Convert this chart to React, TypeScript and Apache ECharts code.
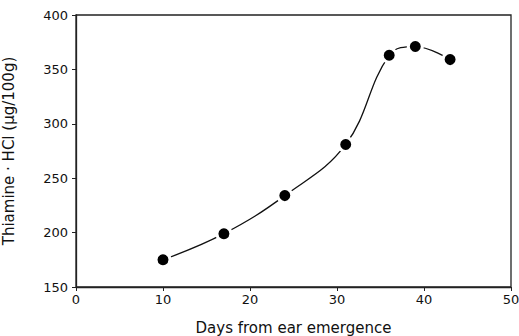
import React, { useEffect, useRef } from "react";
import * as echarts from "echarts";

const days = [10, 17, 24, 31, 36, 39, 43];
const thiamine = [175, 199, 234, 281, 363, 371, 359];
const xTicks = [0, 10, 20, 30, 40, 50];
const yTicks = [150, 200, 250, 300, 350, 400];

export default function App() {
  const ref = useRef<HTMLDivElement>(null);
  useEffect(() => {
    if (!ref.current) return;
    const chart = echarts.init(ref.current, undefined, { renderer: "svg" });
    const font = "DejaVu Sans";
    chart.setOption({
      animation: false,
      backgroundColor: "#fff",
      grid: {
        left: 76, right: 8, top: 15, bottom: 49,
        outerBoundsMode: "none", containLabel: false,
        show: true, borderColor: "#222", borderWidth: 1.3,
      },
      xAxis: {
        type: "value",
        min: xTicks[0],
        max: xTicks[xTicks.length - 1],
        interval: 10,
        name: "Days from ear emergence",
        nameLocation: "middle",
        nameGap: 33,
        nameTextStyle: { fontFamily: font, fontSize: 15, color: "#111" },
        axisLine: { lineStyle: { color: "#222", width: 1.3 } },
        axisTick: { show: true, length: 4, lineStyle: { color: "#222" } },
        axisLabel: { fontFamily: font, fontSize: 13, color: "#111", margin: 6 },
        splitLine: { show: false },
      },
      yAxis: {
        type: "value",
        min: yTicks[0],
        max: yTicks[yTicks.length - 1],
        interval: 50,
        name: "Thiamine · HCl (μg/100g)",
        nameLocation: "middle",
        nameGap: 60,
        nameTextStyle: { fontFamily: font, fontSize: 15, color: "#111" },
        axisLine: { show: true, lineStyle: { color: "#222", width: 1.3 } },
        axisTick: { show: true, length: 4, lineStyle: { color: "#222" } },
        axisLabel: { fontFamily: font, fontSize: 13, color: "#111", margin: 8 },
        splitLine: { show: false },
      },
      series: [
        {
          type: "line",
          data: days.map((d, i) => [d, thiamine[i]]),
          smooth: 0.4,
          symbol: "circle",
          symbolSize: 14,
          lineStyle: { color: "#111", width: 1.3 },
          itemStyle: { color: "#000", borderColor: "#fff", borderWidth: 3 },
        },
      ],
    });
    return () => chart.dispose();
  }, []);
  return <div ref={ref} style={{ width: 519, height: 336, position: "absolute", left: 0, top: 0 }} />;
}
